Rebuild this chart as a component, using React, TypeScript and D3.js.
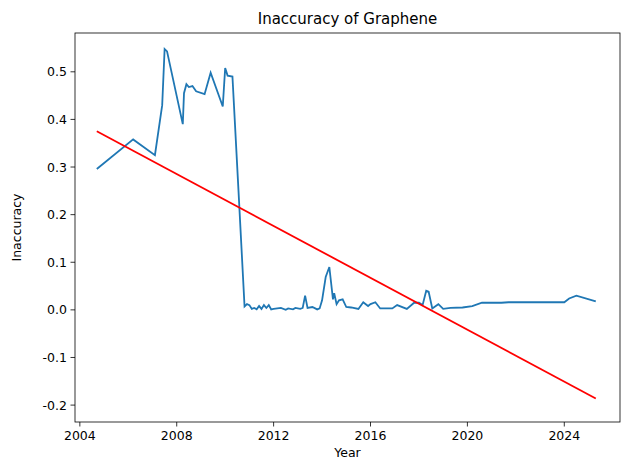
import React from "react";
import * as d3 from "d3";

const years = [2004.7,2006.2,2007.1,2007.4,2007.5,2007.6,2008.25,2008.3,2008.4,2008.5,2008.65,2008.8,2009.15,2009.4,2009.9,2010.0,2010.1,2010.3,2010.55,2010.8,2010.9,2011.0,2011.1,2011.2,2011.3,2011.4,2011.5,2011.6,2011.7,2011.8,2011.9,2012.0,2012.3,2012.5,2012.6,2012.8,2012.9,2013.1,2013.2,2013.3,2013.4,2013.6,2013.8,2013.9,2014.0,2014.15,2014.3,2014.45,2014.5,2014.6,2014.7,2014.85,2015.0,2015.2,2015.5,2015.7,2015.9,2016.0,2016.2,2016.4,2016.6,2016.9,2017.1,2017.5,2017.8,2018.0,2018.15,2018.3,2018.4,2018.55,2018.8,2019.0,2019.3,2019.8,2020.2,2020.6,2021.4,2021.7,2022.5,2023.5,2024.0,2024.2,2024.5,2025.3];
const accuracy = [0.296,0.358,0.325,0.43,0.548,0.543,0.39,0.455,0.474,0.468,0.47,0.459,0.453,0.498,0.427,0.508,0.492,0.49,0.25,0.007,0.012,0.01,0.002,0.004,0.001,0.008,0.002,0.01,0.004,0.01,0.001,0.002,0.004,0.0,0.003,0.001,0.004,0.002,0.004,0.03,0.004,0.006,0.001,0.003,0.02,0.069,0.09,0.022,0.035,0.012,0.02,0.022,0.006,0.005,0.002,0.016,0.008,0.012,0.016,0.003,0.003,0.003,0.01,0.002,0.015,0.015,0.01,0.04,0.038,0.003,0.012,0.002,0.004,0.005,0.008,0.015,0.015,0.016,0.016,0.016,0.016,0.024,0.03,0.018];
const trendYears = [2004.7, 2025.3];
const trendValues = [0.375, -0.186];
const xTicks = [2004, 2008, 2012, 2016, 2020, 2024];
const yTicks = [-0.2, -0.1, 0.0, 0.1, 0.2, 0.3, 0.4, 0.5];

export default function App() {
  const W = 629, H = 470;
  const L = 75, R = 620, T = 33, B = 422;
  const x = d3.scaleLinear().domain([2003.8, 2026.3]).range([L, R]);
  const y = d3.scaleLinear().domain([-0.2355, 0.5815]).range([B, T]);
  const line = d3.line<[number, number]>().x(d => x(d[0])).y(d => y(d[1]));
  const pts = years.map((v, i) => [v, accuracy[i]] as [number, number]);
  const tr = trendYears.map((v, i) => [v, trendValues[i]] as [number, number]);
  const font = "DejaVu Sans, sans-serif";
  return (
    <div style={{ position: "absolute", left: 0, top: 0 }}>
      <svg width={W} height={H} style={{ display: "block", fontFamily: font }}>
        <rect width={W} height={H} fill="white" />
        <path d={line(pts)!} fill="none" stroke="#1f77b4" strokeWidth={1.8} />
        <path d={line(tr)!} fill="none" stroke="red" strokeWidth={1.8} />
        <rect x={L} y={T} width={R - L} height={B - T} fill="none" stroke="black" strokeWidth={0.8} />
        {xTicks.map(t => (
          <g key={t}>
            <line x1={x(t)} x2={x(t)} y1={B} y2={B + 4.5} stroke="black" strokeWidth={0.8} />
            <text x={x(t)} y={B + 18} textAnchor="middle" fontSize={12.5}>{t}</text>
          </g>
        ))}
        {yTicks.map(t => (
          <g key={t}>
            <line x1={L - 4.5} x2={L} y1={y(t)} y2={y(t)} stroke="black" strokeWidth={0.8} />
            <text x={L - 8} y={y(t) + 4.5} textAnchor="end" fontSize={12.5}>{t.toFixed(1)}</text>
          </g>
        ))}
        <text x={(L + R) / 2} y={457} textAnchor="middle" fontSize={12.5}>Year</text>
        <text transform={`translate(21,${(T + B) / 2}) rotate(-90)`} textAnchor="middle" fontSize={12.5}>Inaccuracy</text>
        <text x={(L + R) / 2} y={24} textAnchor="middle" fontSize={15}>Inaccuracy of Graphene</text>
      </svg>
    </div>
  );
}
